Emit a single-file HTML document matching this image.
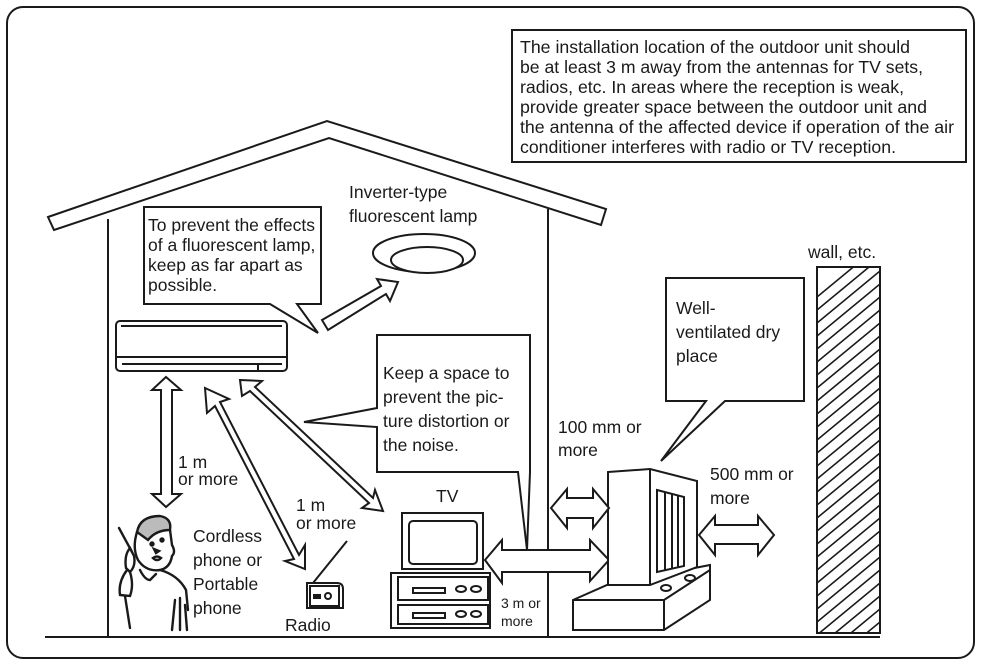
<!DOCTYPE html>
<html><head><meta charset="utf-8"><style>
html,body{margin:0;padding:0;background:#fff}
svg{display:block}
text{font-family:"Liberation Sans",Arial,sans-serif;fill:#1a1a1a}
</style></head><body>
<svg width="983" height="665" viewBox="0 0 983 665" xmlns="http://www.w3.org/2000/svg">
<g fill="none" stroke="#1a1a1a" stroke-width="2" stroke-linejoin="miter">
<rect x="7" y="7" width="967" height="651" rx="16" stroke-width="2"/>
<rect x="512" y="30" width="454" height="132"/>
<polygon points="48,217 327,121 606,209 601,225 329,138 54,230" fill="#fff"/>
<line x1="108" y1="219" x2="108" y2="637"/>
<line x1="548" y1="209" x2="548" y2="637"/>
<line x1="45" y1="637" x2="880" y2="637"/>
<polygon points="144,207 321,207 321,304 297,304 318,333 270,304 144,304" fill="#fff"/>
<ellipse cx="424" cy="253" rx="51" ry="19"/>
<ellipse cx="427" cy="260" rx="36" ry="13" fill="#fff"/>
<polygon points="322,320 381,286 377,279 398,282 390,301 386,294 328,330" fill="#fff"/>
<rect x="116" y="321" width="171" height="50" rx="4" fill="#fff"/>
<line x1="121" y1="326" x2="282" y2="326"/>
<line x1="117" y1="357" x2="286" y2="357"/>
<line x1="122" y1="364" x2="282" y2="364"/>
<line x1="258" y1="364" x2="258" y2="371"/>
<polygon points="166,377 181,390 172,390 172,494 181,494 166,507 152,494 161,494 161,390 152,390" fill="#fff"/>
<polygon points="205,388 229,399 220,402 299,555 305,545 305,569 285,561 294,559 215,406 207,413" fill="#fff"/>
<polygon points="240,380 262,381 255,387 373,498 375,490 383,511 362,508 369,503 250,391 242,396" fill="#fff"/>
<polygon points="377,335 530,335 530,472 527,550 518,472 377,472 377,427 304,422 377,408" fill="#fff"/>
<polygon points="485,560 502,540 502,550 590,550 590,540 609,560 590,581 590,572 502,572 502,583" fill="#fff"/>
<rect x="402" y="513" width="81" height="56" fill="#fff"/>
<rect x="409" y="521" width="68" height="43" rx="4"/>
<rect x="391" y="573" width="99" height="55" fill="#fff"/>
<rect x="398" y="577" width="90" height="23"/>
<rect x="398" y="605" width="90" height="19"/>
<rect x="413" y="588" width="32" height="5"/>
<ellipse cx="461" cy="589" rx="5" ry="3"/><ellipse cx="476" cy="589" rx="5" ry="3"/>
<rect x="413" y="613" width="32" height="5"/>
<ellipse cx="461" cy="614" rx="5" ry="3"/><ellipse cx="476" cy="614" rx="5" ry="3"/>
<line x1="313" y1="583" x2="347" y2="541"/>
<path d="M307,608 V583 H337 Q343,583 343,589 V608 Z" fill="#fff"/>
<rect x="310" y="586" width="29" height="20"/>
<rect x="314" y="595" width="6" height="3" fill="#1a1a1a"/>
<circle cx="328" cy="596" r="3"/>
<polygon points="666,278 804,278 804,401 725,401 661,461 706,401 666,401" fill="#fff"/>
<polygon points="573,600 607,585 710,565 710,600 664,630 573,630" fill="#fff"/>
<polyline points="573,600 664,600 710,570"/>
<line x1="664" y1="600" x2="664" y2="630"/>
<polygon points="608,472 650,469 697,481 697,567 650,585 608,585" fill="#fff"/>
<line x1="650" y1="469" x2="650" y2="585"/>
<polygon points="657,490 684,497 684,566 657,572" />
<line x1="665" y1="492" x2="665" y2="570"/>
<line x1="672" y1="494" x2="672" y2="569"/>
<line x1="678" y1="495" x2="678" y2="568"/>
<ellipse cx="666" cy="588" rx="5" ry="3"/><ellipse cx="690" cy="578" rx="5" ry="3"/>
<polygon points="551,508 567,489 567,498 593,498 593,489 609,508 593,528 593,518 567,518 567,528" fill="#fff"/>
<polygon points="699,535 715,516 715,525 758,525 758,516 774,535 758,555 758,544 715,544 715,555" fill="#fff"/>
<rect x="817" y="267" width="63" height="366" fill="#fff"/>
</g>
<clipPath id="wc"><rect x="817" y="267" width="63" height="366"/></clipPath>
<g clip-path="url(#wc)" stroke="#1a1a1a" stroke-width="1.6">
<path d="M817,297 l63,-52 M817,310 l63,-52 M817,323 l63,-52 M817,336 l63,-52 M817,349 l63,-52 M817,362 l63,-52 M817,375 l63,-52 M817,388 l63,-52 M817,401 l63,-52 M817,414 l63,-52 M817,427 l63,-52 M817,440 l63,-52 M817,453 l63,-52 M817,466 l63,-52 M817,479 l63,-52 M817,492 l63,-52 M817,505 l63,-52 M817,518 l63,-52 M817,531 l63,-52 M817,544 l63,-52 M817,557 l63,-52 M817,570 l63,-52 M817,583 l63,-52 M817,596 l63,-52 M817,609 l63,-52 M817,622 l63,-52 M817,635 l63,-52 M817,648 l63,-52 M817,661 l63,-52 M817,674 l63,-52 M817,687 l63,-52"/>
</g>
<g fill="none" stroke="#1a1a1a" stroke-width="2.4" stroke-linecap="round">
<path d="M137,532 Q140,516 160,516 Q172,518 170,530 Q156,530 148,540 Z" fill="#bbb"/>
<path d="M137,532 Q132,548 138,560 Q146,572 160,570 Q170,568 172,556 Q176,552 172,545 L170,530"/>
<path d="M119,528 L132,552"/>
<path d="M130,548 Q124,555 126,568 L130,572 Q136,566 134,556 Z"/>
<path d="M127,570 Q118,582 120,595 L130,596 Q134,585 130,572"/>
<path d="M125,596 L130,628"/>
<path d="M140,570 Q145,580 150,580 L156,574 M160,570 Q178,575 186,590 L188,610"/>
<path d="M175,600 L172,630 M180,598 L180,630 M185,605 L187,630"/>
<circle cx="152" cy="544" r="1.5" fill="#1a1a1a"/><circle cx="162" cy="540" r="1.5" fill="#1a1a1a"/>
<path d="M154,549 l2,4 l3,-2 z" fill="#1a1a1a"/>
<path d="M153,558 q4,4 8,0 q-4,-3 -8,0z" fill="#fff"/>
</g>
<g font-size="17.3" lengthAdjust="spacingAndGlyphs">
<text x="520" y="53" textLength="390" lengthAdjust="spacingAndGlyphs">The installation location of the outdoor unit should</text>
<text x="520" y="73" textLength="403" lengthAdjust="spacingAndGlyphs">be at least 3 m away from the antennas for TV sets,</text>
<text x="520" y="93" textLength="384" lengthAdjust="spacingAndGlyphs">radios, etc. In areas where the reception is weak,</text>
<text x="520" y="113" textLength="407" lengthAdjust="spacingAndGlyphs">provide greater space between the outdoor unit and</text>
<text x="520" y="133" textLength="434" lengthAdjust="spacingAndGlyphs">the antenna of the affected device if operation of the air</text>
<text x="520" y="153" textLength="376" lengthAdjust="spacingAndGlyphs">conditioner interferes with radio or TV reception.</text>
</g>
<g font-size="17.5">
<text x="349" y="198">Inverter-type</text>
<text x="349" y="222">fluorescent lamp</text>
<text x="148" y="231">To prevent the effects</text>
<text x="148" y="251">of a fluorescent lamp,</text>
<text x="148" y="271">keep as far apart as</text>
<text x="148" y="291">possible.</text>
<text x="383" y="379">Keep a space to</text>
<text x="383" y="403">prevent the pic-</text>
<text x="383" y="427">ture distortion or</text>
<text x="383" y="451">the noise.</text>
<text x="178" y="468">1 m</text>
<text x="178" y="485">or more</text>
<text x="296" y="511">1 m</text>
<text x="296" y="529">or more</text>
<text x="436" y="502">TV</text>
<text x="193" y="542">Cordless</text>
<text x="193" y="566">phone or</text>
<text x="193" y="590">Portable</text>
<text x="193" y="614">phone</text>
<text x="285" y="631">Radio</text>
<text x="558" y="433">100 mm or</text>
<text x="558" y="456">more</text>
<text x="676" y="314">Well-</text>
<text x="676" y="338">ventilated dry</text>
<text x="676" y="362">place</text>
<text x="710" y="480">500 mm or</text>
<text x="710" y="504">more</text>
<text x="808" y="258">wall, etc.</text>
</g>
<g font-size="14">
<text x="501" y="608">3 m or</text>
<text x="501" y="626">more</text>
</g>
</svg>
</body></html>
